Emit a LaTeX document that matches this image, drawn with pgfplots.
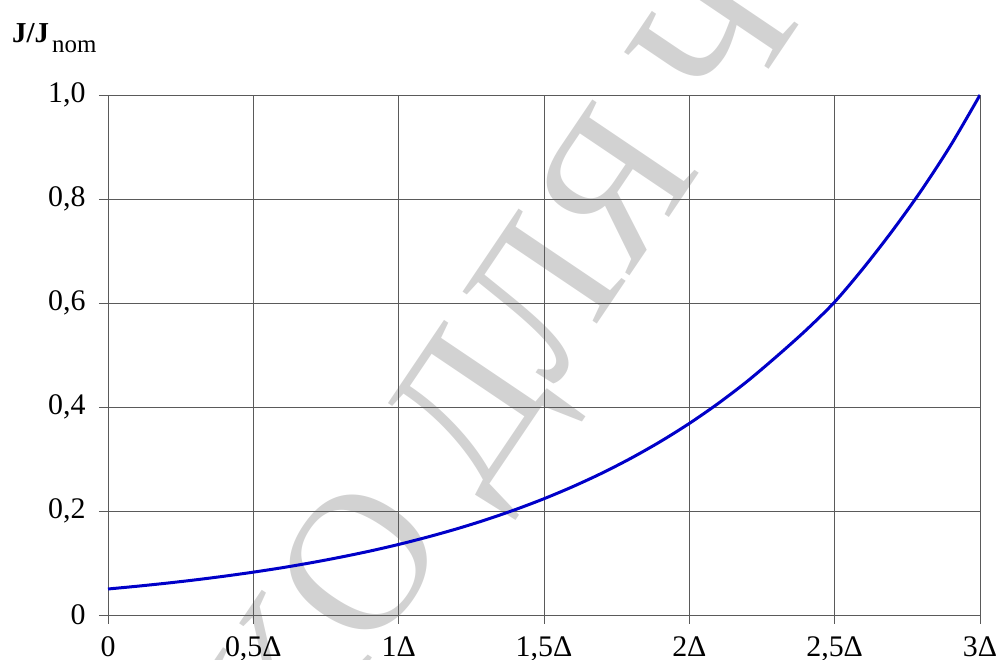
\documentclass[border=0pt]{standalone}
\usepackage{fontspec}
\setmainfont{Liberation Serif}
\usepackage{pgfplots}
\pgfplotsset{compat=1.18}

\definecolor{gridgray}{RGB}{90,90,90}
\definecolor{curveblue}{RGB}{0,0,200}
\definecolor{wmgray}{RGB}{210,210,210}

\begin{document}
\begin{tikzpicture}[x=1bp,y=1bp]
% watermark, behind everything else
\begin{scope}
  \clip (-108,-45) rectangle (898,615);
  \node[rotate=56, anchor=base west, text=wmgray, inner sep=0pt,
        font=\fontsize{198}{198}\selectfont] (w) at (264,-43) {О ДЛЯ ЧТЕНИЯ};
  \node[rotate=56, anchor=base east, text=wmgray, inner sep=0pt,
        font=\fontsize{198}{198}\selectfont] at (w.base west) {ТОЛЬК};
\end{scope}

\begin{axis}[
  at={(0,0)}, anchor=south west,
  scale only axis, width=872bp, height=520bp,
  xmin=0, xmax=3, ymin=0, ymax=1,
  xtick={0,0.5,1,1.5,2,2.5,3},
  xticklabels={0,{0,5Δ},1Δ,{1,5Δ},2Δ,{2,5Δ},3Δ},
  ytick={0,0.2,0.4,0.6,0.8,1},
  yticklabels={0,{0,2},{0,4},{0,6},{0,8},{1,0}},
  grid=major,
  major grid style={gridgray, line width=0.8pt},
  axis line style={gridgray, line width=0.8pt},
  xtick style={gridgray, line width=0.8pt},
  ytick style={gridgray, line width=0.8pt},
  xtick pos=bottom, ytick pos=left,
  xtick align=outside, ytick align=outside, major tick length=9bp,
  ticklabel style={font=\fontsize{30}{30}\selectfont, text=black},
  xticklabel style={yshift=-9bp},
  yticklabel style={xshift=-10bp},
]
\addplot[curveblue, line width=3bp, smooth] coordinates {
  (0.0,0.0500) (0.1,0.0553) (0.2,0.0611) (0.3,0.0675) (0.4,0.0746)
  (0.5,0.0824) (0.6,0.0910) (0.7,0.1006) (0.8,0.1112) (0.9,0.1228)
  (1.0,0.1357) (1.1,0.1500) (1.2,0.1657) (1.3,0.1831) (1.4,0.2024)
  (1.5,0.2236) (1.6,0.2471) (1.7,0.2730) (1.8,0.3017) (1.9,0.3334)
  (2.0,0.3684) (2.1,0.4071) (2.2,0.4498) (2.3,0.4971) (2.4,0.5470)
  (2.5,0.6020) (2.6,0.6680) (2.7,0.7400) (2.8,0.8180) (2.9,0.9040)
  (3.0,1.0000)
};
\end{axis}

% axis title in the top-left corner
\node[anchor=base west, inner sep=0pt, font=\fontsize{29}{29}\selectfont]
  at (-96,572) {\textbf{J/J}\hspace{3bp}\raisebox{-10bp}{\fontsize{25}{25}\selectfont nom}};

\pgfresetboundingbox
\path[use as bounding box] (-108,-45) rectangle (898,615);
\end{tikzpicture}
\end{document}
